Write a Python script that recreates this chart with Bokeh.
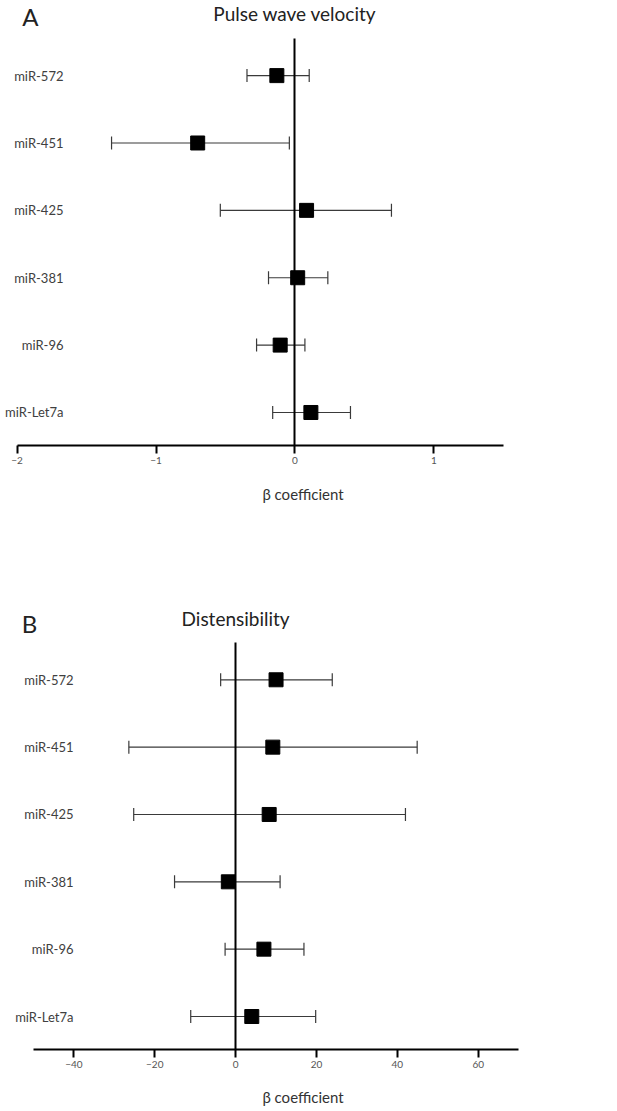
from bokeh.plotting import figure
from bokeh.models import (ColumnDataSource, Whisker, TeeHead, Label, LabelSet,
                          FixedTicker, Range1d, LinearAxis)
from bokeh.core.properties import value
from bokeh.layouts import column
from bokeh.embed import file_html
from bokeh.resources import INLINE

# ---- data (bottom row first) ----
genes = ["miR-Let7a", "miR-96", "miR-381", "miR-425", "miR-451", "miR-572"]
rows = [0, 1, 2, 3, 4, 5]

pwv_est = [0.115, -0.106, 0.02, 0.084, -0.70, -0.13]
pwv_lo = [-0.16, -0.276, -0.19, -0.537, -1.32, -0.345]
pwv_hi = [0.40, 0.072, 0.237, 0.695, -0.04, 0.103]
pwv_ticks = [-2, -1, 0, 1]

dist_est = [4.0, 7.0, -1.8, 8.3, 9.2, 10.0]
dist_lo = [-11.1, -2.6, -15.1, -25.2, -26.4, -3.7]
dist_hi = [19.8, 16.9, 11.0, 42.0, 44.9, 23.9]
dist_ticks = [-40, -20, 0, 20, 40, 60]

FONT = "Lato"
W = 605


def forest(est, lo, hi, ticks, xr, bounds, yr, frame_h, letter, title,
           label_x, letter_x, letter_y, title_y, lab_bounds, border_bottom,
           lab_standoff):
    p = figure(frame_width=W, frame_height=frame_h,
               x_range=Range1d(*xr), y_range=Range1d(*yr),
               output_backend="svg", toolbar_location=None,
               min_border_left=0, min_border_right=0,
               min_border_top=0, min_border_bottom=border_bottom)
    p.outline_line_color = None
    p.grid.visible = False

    # zero reference line drawn by the y axis placed at x = 0
    ya = p.yaxis[0]
    ya.fixed_location = 0
    ya.bounds = (-0.49, 5.55)
    ya.ticker = FixedTicker(ticks=[])
    ya.axis_line_width = 2
    ya.axis_line_color = "black"
    ya.major_tick_line_color = None
    ya.minor_tick_line_color = None
    ya.major_tick_out = 0
    ya.major_label_text_font_size = "0px"

    src = ColumnDataSource(dict(y=rows, est=est, lo=lo, hi=hi, gene=genes,
                                lx=[label_x] * len(genes)))

    w = Whisker(source=src, base="y", lower="lo", upper="hi", dimension="width",
                line_color="#3a3a3a", line_width=1.2, level="underlay",
                lower_head=TeeHead(size=13, line_color="#3a3a3a", line_width=1.2),
                upper_head=TeeHead(size=13, line_color="#3a3a3a", line_width=1.2))
    p.add_layout(w)
    p.scatter(x="est", y="y", source=src, marker="square", size=14,
              fill_color="black", line_color="black")

    p.add_layout(LabelSet(x="lx", y="y", text="gene", source=src,
                          text_align="right", text_baseline="middle",
                          text_font=value(FONT), text_font_size=value("13px"),
                          text_color=value("#404040")))

    ax = p.xaxis[0]
    ax.ticker = FixedTicker(ticks=ticks)
    ax.bounds = bounds
    ax.axis_line_width = 2
    ax.axis_line_color = "black"
    ax.major_tick_line_width = 2
    ax.major_tick_line_color = "black"
    ax.major_tick_out = 8
    ax.major_tick_in = 0
    ax.minor_tick_line_color = None
    ax.major_label_standoff = 3
    ax.major_label_text_font = FONT
    ax.major_label_text_font_size = "10px"
    ax.major_label_text_color = "#555555"

    # second (label-only) axis, centred on x = 0
    ax2 = LinearAxis(bounds=lab_bounds, ticker=FixedTicker(ticks=[]),
                     axis_line_color=None, major_tick_line_color=None,
                     minor_tick_line_color=None, major_label_text_font_size="0px",
                     axis_label="β coefficient", axis_label_standoff=lab_standoff,
                     axis_label_text_font=FONT, axis_label_text_font_size="15px",
                     axis_label_text_font_style="normal",
                     axis_label_text_color="#333333")
    p.add_layout(ax2, "below")

    p.add_layout(Label(x=0, y=title_y, text=title, text_align="center",
                       text_baseline="middle", text_font=FONT,
                       text_font_size="19px", text_color="#222222"))
    p.add_layout(Label(x=letter_x, y=letter_y, text=letter, text_align="center",
                       text_baseline="middle", text_font=FONT,
                       text_font_size="24px", text_color="#222222"))
    return p


pA = forest(pwv_est, pwv_lo, pwv_hi, pwv_ticks, (-2.1195, 2.236), (-2, 1.5),
            (-0.49, 6.115), 445, "A", "Pulse wave velocity",
            -1.666, -1.904, 5.877, 5.92, (-0.5, 0.5), 85, 18)
pB = forest(dist_est, dist_lo, dist_hi, dist_ticks, (-58.14, 91.47), (-50, 70),
            (-0.49, 7.217), 519, "B", "Distensibility",
            -40.08, -50.96, 5.836, 5.91, (-10, 10), 55, 17)

layout = column(pA, pB)
open("out.html", "w").write(file_html(layout, INLINE))
